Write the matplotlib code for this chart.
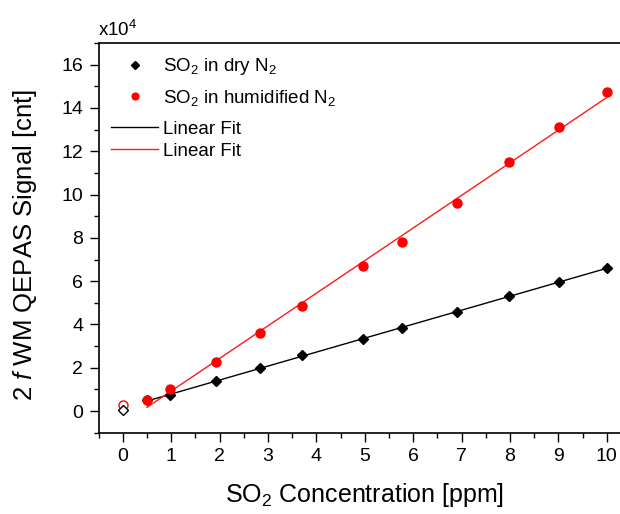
import matplotlib
matplotlib.use("Agg")
import matplotlib.pyplot as plt
import numpy as np
from matplotlib.ticker import MultipleLocator

plt.rcParams['font.family'] = ['Liberation Sans', 'DejaVu Sans']
plt.rcParams['mathtext.fontset'] = 'custom'
plt.rcParams['mathtext.rm'] = 'Liberation Sans'
plt.rcParams['mathtext.it'] = 'Liberation Sans:italic'

# concentrations [ppm] and signals [x1e4 cnt]
conc_dry = [0.5, 0.98, 1.93, 2.84, 3.70, 4.96, 5.76, 6.90, 7.98, 9.01, 10.0]
sig_dry = [0.49, 0.72, 1.38, 2.00, 2.57, 3.34, 3.83, 4.57, 5.30, 5.96, 6.60]
conc_hum = [0.5, 0.98, 1.93, 2.84, 3.70, 4.96, 5.76, 6.90, 7.98, 9.01, 10.0]
sig_hum = [0.49, 1.03, 2.26, 3.60, 4.87, 6.72, 7.81, 9.62, 11.50, 13.14, 14.73]
# zero-concentration points (open markers)
zero_dry = 0.06
zero_hum = 0.29

fig = plt.figure(figsize=(6.2, 5.14), dpi=100)
ax = fig.add_axes([98.5 / 620, 81.3 / 514, 532.5 / 620, 389.7 / 514])

p_dry = np.polyfit(conc_dry, sig_dry, 1)
p_hum = np.polyfit(conc_hum, sig_hum, 1)
xf = np.array([0.5, 10.0])

l1, = ax.plot(xf, np.polyval(p_dry, xf), color='black', lw=1.0, zorder=2)
l2, = ax.plot(xf, np.polyval(p_hum, xf), color='#ff1a1a', lw=1.0, zorder=2)
s1, = ax.plot(conc_dry, sig_dry, 'D', color='black', ms=5.5, ls='none', zorder=3)
s2, = ax.plot(conc_hum, sig_hum, 'o', color='#ff0000', ms=6.5, ls='none', zorder=3)
ax.plot([0], [zero_hum], 'o', mfc='white', mec='#ff0000', ms=6.5, mew=1.0, zorder=3)
ax.plot([0], [zero_dry], 'D', mfc='white', mec='black', ms=5.5, mew=1.0, zorder=3)

ax.set_xlim(-0.5, 10.5)
ax.set_ylim(-1, 17)
ax.xaxis.set_major_locator(MultipleLocator(1))
ax.xaxis.set_minor_locator(MultipleLocator(0.5))
ax.yaxis.set_major_locator(MultipleLocator(2))
ax.yaxis.set_minor_locator(MultipleLocator(1))
ax.tick_params(which='major', direction='out', length=6.5, width=1.0, labelsize=14, pad=4.5)
ax.tick_params(which='minor', direction='out', length=3.5, width=1.0)
ax.tick_params(top=False, right=False, which='both')
for s in ['left', 'bottom', 'top']:
    ax.spines[s].set_linewidth(1.2)
ax.spines['right'].set_visible(False)

ax.set_xlabel('SO$_2$ Concentration [ppm]', fontsize=18)
ax.set_ylabel('2 $\\mathit{f}$ WM QEPAS Signal [cnt]', fontsize=18.5)
ax.xaxis.set_label_coords(0.5, -0.125)
ax.yaxis.set_label_coords(-0.111, 0.482)
ax.text(0.0, 1.008, 'x10$^4$', transform=ax.transAxes, fontsize=13.5, ha='left', va='bottom')

leg1 = ax.legend([s1, s2], ['SO$_2$ in dry N$_2$', 'SO$_2$ in humidified N$_2$'],
                 loc='upper left', bbox_to_anchor=(0.01, 0.985), frameon=False, fontsize=13.5,
                 handlelength=2.5, handletextpad=0.25, labelspacing=0.55, markerscale=0.75,
                 borderaxespad=0)
ax.add_artist(leg1)
leg2 = ax.legend([l1, l2], ['Linear Fit', 'Linear Fit'],
                 loc='upper left', bbox_to_anchor=(0.01, 0.82), frameon=False, fontsize=13.5,
                 handlelength=2.5, handletextpad=0.25, labelspacing=0.25, borderaxespad=0)

fig.savefig('out.png', dpi=100)
